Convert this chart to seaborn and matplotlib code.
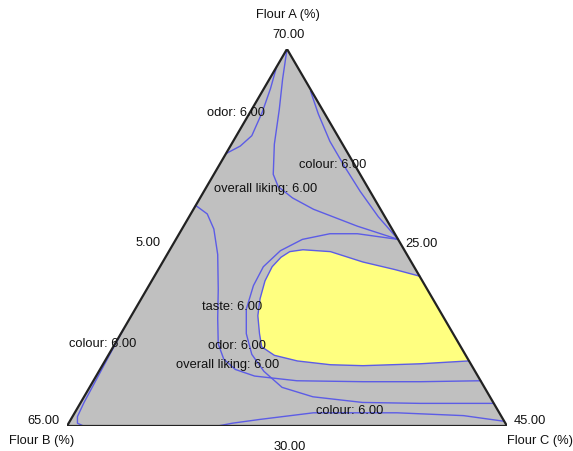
import numpy as np
import pandas as pd
import matplotlib
matplotlib.use("Agg")
import matplotlib.pyplot as plt
import seaborn as sns

# Mixture constraints (actual %, A + B + C = 100)
A_MIN, A_MAX = 30.0, 70.0
B_MIN, B_MAX = 25.0, 65.0
C_MIN, C_MAX = 5.0, 45.0
SPAN = A_MAX - A_MIN

# Vertex / edge labels
vertex_names = ["Flour A (%)", "Flour B (%)", "Flour C (%)"]
vertex_values = ["70.00", "65.00", "45.00"]
edge_values = ["30.00", "25.00", "5.00"]   # minima of A, B, C

# 6.00 contour lines as (Flour A %, Flour C %); Flour B = 100 - A - C
odor_top_A = [68.1, 65.8, 63.3, 60.8, 59.7, 58.9]
odor_top_C = [5.0, 5.6, 6.1, 6.4, 5.9, 5.0]

liking_top_A = [70.0, 66.8, 63.6, 59.9, 56.7, 55.4, 54.2, 53.0, 51.2, 49.8]
liking_top_C = [5.0, 6.2, 7.5, 8.9, 10.4, 11.5, 13.4, 15.9, 20.8, 25.2]

colour_top_A = [65.5, 63.1, 60.2, 57.5, 54.9, 52.2, 49.8]
colour_top_C = [9.4, 11.3, 13.8, 16.5, 19.2, 22.2, 25.2]

colour_left_A = [40.3, 37.5, 35.0, 32.5, 31.0, 30.3, 30.0]
colour_left_C = [5.0, 5.1, 5.2, 5.3, 5.45, 5.8, 6.5]

colour_bottom_A = [30.0, 30.3, 30.7, 31.4, 31.4, 31.1, 30.5]
colour_bottom_C = [18.7, 19.9, 22.2, 26.7, 34.3, 40.5, 44.5]

liking_low_A = [53.4, 52.5, 50.9, 48.2, 44.5, 41.4, 38.7, 37.1, 36.0, 35.3,
                34.8, 34.7, 34.7, 34.8]
liking_low_C = [5.0, 6.5, 7.9, 9.6, 11.5, 13.0, 14.4, 15.7, 17.3, 19.4,
                23.5, 29.6, 34.8, 40.2]

taste_A = [49.8, 50.4, 50.4, 49.8, 48.6, 46.9, 44.9, 42.4, 39.8, 37.6,
           35.8, 34.1, 33.1, 32.5, 32.4, 32.4]
taste_C = [25.2, 21.2, 18.7, 16.5, 15.1, 14.4, 14.5, 15.1, 16.4, 18.0,
           20.0, 22.5, 25.8, 30.6, 35.9, 42.5]

odor_low_A = [45.9, 46.6, 47.4, 48.5, 48.7, 48.5, 47.9, 46.9, 45.4, 43.5,
              41.7, 39.8, 38.4, 37.5, 36.9, 36.5, 36.4, 36.6, 36.9]
odor_low_C = [29.1, 26.5, 23.2, 19.7, 17.1, 16.0, 15.5, 15.2, 15.3, 15.8,
              16.5, 17.6, 18.5, 20.1, 22.5, 25.7, 28.7, 33.8, 38.0]


def to_xy(A, C):
    """Actual percentages -> cartesian position in the unit simplex plot."""
    a = (np.asarray(A, float) - A_MIN) / SPAN
    c = (np.asarray(C, float) - C_MIN) / SPAN
    return c + a / 2.0, a


curves = {
    "odor_top": (odor_top_A, odor_top_C),
    "liking_top": (liking_top_A, liking_top_C),
    "colour_top": (colour_top_A, colour_top_C),
    "colour_left": (colour_left_A, colour_left_C),
    "colour_bottom": (colour_bottom_A, colour_bottom_C),
    "liking_low": (liking_low_A, liking_low_C),
    "taste": (taste_A, taste_C),
    "odor_low": (odor_low_A, odor_low_C),
}

frames = []
for name, (A, C) in curves.items():
    x, y = to_xy(A, C)
    frames.append(pd.DataFrame({"x": x, "y": y, "curve": name}))
df = pd.concat(frames, ignore_index=True)

W, H = 573, 452
fig = plt.figure(figsize=(W / 100, H / 100), dpi=100)
fig.patch.set_facecolor("white")
ax = fig.add_axes([67 / W, (H - 427) / H, 440 / W, 377 / H])
ax.set_xlim(0, 1)
ax.set_ylim(0, 1)
ax.axis("off")

# Design space
tx, ty = to_xy([A_MIN, A_MIN, A_MAX], [C_MIN, C_MAX, C_MIN])
ax.fill(tx, ty, color="#c0c0c0", zorder=0, lw=0)

# Sweet spot: region enclosed by the lower odor contour and the B-min edge
yx, yy = to_xy(odor_low_A, odor_low_C)
ax.fill(yx, yy, color="#ffff80", zorder=1, lw=0)

sns.lineplot(data=df, x="x", y="y", units="curve", estimator=None,
             sort=False, color="#5c5ce6", linewidth=1.0, ax=ax,
             legend=False, zorder=2)
ax.set_xlabel("")
ax.set_ylabel("")

ax.plot(np.append(tx, tx[0]), np.append(ty, ty[0]), color="#222222",
        lw=1.6, zorder=4, solid_joinstyle="miter")

FONT = dict(family=["Liberation Sans", "DejaVu Sans"], fontsize=9.3,
            color="#111111", ha="center", va="center", zorder=6)


def put(text, x, y):
    fig.text(x / W, 1 - y / H, text, **FONT)


# Vertex names and ranges
put(vertex_names[0], 288, 15)
put(vertex_values[0], 289, 35)
put(vertex_names[1], 42, 441)
put(vertex_values[1], 43, 421)
put(vertex_names[2], 540, 441)
put(vertex_values[2], 530, 421)
put(edge_values[0], 290, 447)
put(edge_values[1], 421, 244)
put(edge_values[2], 148, 243)

# Contour labels
put("odor: 6.00", 236, 113)
put("colour: 6.00", 333, 165)
put("overall liking: 6.00", 266, 189)
put("taste: 6.00", 232, 307)
put("colour: 6.00", 103, 344)
put("odor: 6.00", 237, 346)
put("overall liking: 6.00", 228, 365)
put("colour: 6.00", 350, 411)

fig.savefig("out.png", dpi=100, facecolor="white")
